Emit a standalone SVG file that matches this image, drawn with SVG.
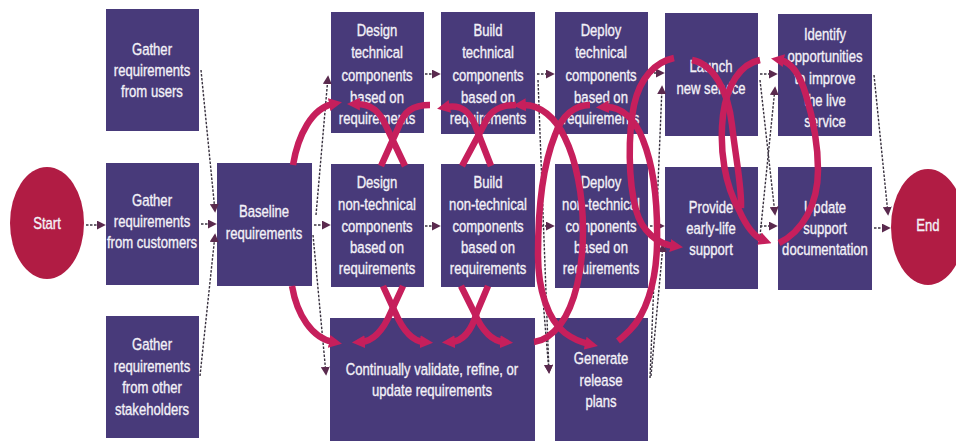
<svg xmlns="http://www.w3.org/2000/svg" width="956" height="441" viewBox="0 0 956 441">
<style>
.box{fill:#483a7a}
.oval{fill:#b11c44}
.t{font-family:"Liberation Sans",Arial,sans-serif;font-size:17px;fill:#f3f1f7;stroke:#f3f1f7;stroke-width:0.35;text-anchor:middle}
.d{fill:none;stroke:#3a3340;stroke-width:1.4;stroke-dasharray:2.5 1.5;marker-end:url(#da)}
.m{fill:none;stroke:#c61f5c;stroke-width:6.5}
.me{marker-end:url(#ma)}
.ms{marker-start:url(#ma)}
</style>
<defs>
<marker id="da" viewBox="0 0 10 10" refX="8" refY="5" markerUnits="userSpaceOnUse" markerWidth="9" markerHeight="9" orient="auto"><path d="M0,0 L10,5 L0,10 z" fill="#5a2a4e"/></marker>
<marker id="ma" viewBox="0 0 10 10" refX="3" refY="5" markerUnits="userSpaceOnUse" markerWidth="13" markerHeight="15" orient="auto-start-reverse"><path d="M0,0 L10,5 L0,10 z" fill="#c61f5c"/></marker>
</defs>
<rect width="956" height="441" fill="#ffffff"/>

<g id="start"><ellipse class="oval" cx="47" cy="223" rx="37" ry="56"/><text class="t" transform="matrix(0.77 0 0 1 47 229)">Start</text></g>
<g id="gather-users"><rect class="box" x="106" y="9" width="93" height="122"/><text class="t" transform="matrix(0.77 0 0 1 152 55)">Gather</text><text class="t" transform="matrix(0.77 0 0 1 152 76)">requirements</text><text class="t" transform="matrix(0.77 0 0 1 152 97)">from users</text></g>
<g id="gather-customers"><rect class="box" x="106" y="163" width="93" height="122"/><text class="t" transform="matrix(0.77 0 0 1 152 206)">Gather</text><text class="t" transform="matrix(0.77 0 0 1 152 227)">requirements</text><text class="t" transform="matrix(0.77 0 0 1 152 248)">from customers</text></g>
<g id="gather-other"><rect class="box" x="106" y="316" width="93" height="122"/><text class="t" transform="matrix(0.77 0 0 1 152 350)">Gather</text><text class="t" transform="matrix(0.77 0 0 1 152 372)">requirements</text><text class="t" transform="matrix(0.77 0 0 1 152 393)">from other</text><text class="t" transform="matrix(0.77 0 0 1 152 415)">stakeholders</text></g>
<g id="baseline"><rect class="box" x="217" y="163" width="95" height="123"/><text class="t" transform="matrix(0.77 0 0 1 264 217)">Baseline</text><text class="t" transform="matrix(0.77 0 0 1 264 239)">requirements</text></g>
<g id="design-tech"><rect class="box" x="331" y="12" width="93" height="121"/><text class="t" transform="matrix(0.77 0 0 1 377 36)">Design</text><text class="t" transform="matrix(0.77 0 0 1 377 58)">technical</text><text class="t" transform="matrix(0.77 0 0 1 377 81)">components</text><text class="t" transform="matrix(0.77 0 0 1 377 103)">based on</text><text class="t" transform="matrix(0.77 0 0 1 377 124)">requirements</text></g>
<g id="build-tech"><rect class="box" x="441" y="12" width="94" height="122"/><text class="t" transform="matrix(0.77 0 0 1 488 36)">Build</text><text class="t" transform="matrix(0.77 0 0 1 488 58)">technical</text><text class="t" transform="matrix(0.77 0 0 1 488 81)">components</text><text class="t" transform="matrix(0.77 0 0 1 488 103)">based on</text><text class="t" transform="matrix(0.77 0 0 1 488 124)">requirements</text></g>
<g id="deploy-tech"><rect class="box" x="555" y="12" width="93" height="122"/><text class="t" transform="matrix(0.77 0 0 1 601 36)">Deploy</text><text class="t" transform="matrix(0.77 0 0 1 601 58)">technical</text><text class="t" transform="matrix(0.77 0 0 1 601 81)">components</text><text class="t" transform="matrix(0.77 0 0 1 601 103)">based on</text><text class="t" transform="matrix(0.77 0 0 1 601 124)">requirements</text></g>
<g id="design-nontech"><rect class="box" x="331" y="164" width="93" height="123"/><text class="t" transform="matrix(0.77 0 0 1 377 188)">Design</text><text class="t" transform="matrix(0.77 0 0 1 377 210)">non-technical</text><text class="t" transform="matrix(0.77 0 0 1 377 232)">components</text><text class="t" transform="matrix(0.77 0 0 1 377 253)">based on</text><text class="t" transform="matrix(0.77 0 0 1 377 274)">requirements</text></g>
<g id="build-nontech"><rect class="box" x="441" y="164" width="94" height="123"/><text class="t" transform="matrix(0.77 0 0 1 488 188)">Build</text><text class="t" transform="matrix(0.77 0 0 1 488 210)">non-technical</text><text class="t" transform="matrix(0.77 0 0 1 488 232)">components</text><text class="t" transform="matrix(0.77 0 0 1 488 253)">based on</text><text class="t" transform="matrix(0.77 0 0 1 488 274)">requirements</text></g>
<g id="deploy-nontech"><rect class="box" x="555" y="164" width="93" height="124"/><text class="t" transform="matrix(0.77 0 0 1 601 188)">Deploy</text><text class="t" transform="matrix(0.77 0 0 1 601 210)">non-technical</text><text class="t" transform="matrix(0.77 0 0 1 601 232)">components</text><text class="t" transform="matrix(0.77 0 0 1 601 253)">based on</text><text class="t" transform="matrix(0.77 0 0 1 601 274)">requirements</text></g>
<g id="continually"><rect class="box" x="330" y="318" width="205" height="125"/><text class="t" transform="matrix(0.77 0 0 1 432 375)">Continually validate, refine, or</text><text class="t" transform="matrix(0.77 0 0 1 432 396)">update requirements</text></g>
<g id="generate"><rect class="box" x="555" y="318" width="93" height="125"/><text class="t" transform="matrix(0.77 0 0 1 601 364)">Generate</text><text class="t" transform="matrix(0.77 0 0 1 601 386)">release</text><text class="t" transform="matrix(0.77 0 0 1 601 407)">plans</text></g>
<g id="launch"><rect class="box" x="665" y="13" width="93" height="123"/><text class="t" transform="matrix(0.77 0 0 1 711 72)">Launch</text><text class="t" transform="matrix(0.77 0 0 1 711 94)">new service</text></g>
<g id="identify"><rect class="box" x="778" y="14" width="94" height="122"/><text class="t" transform="matrix(0.77 0 0 1 825 40)">Identify</text><text class="t" transform="matrix(0.77 0 0 1 825 62)">opportunities</text><text class="t" transform="matrix(0.77 0 0 1 825 84)">to improve</text><text class="t" transform="matrix(0.77 0 0 1 825 106)">the live</text><text class="t" transform="matrix(0.77 0 0 1 825 127)">service</text></g>
<g id="provide"><rect class="box" x="665" y="167" width="93" height="122"/><text class="t" transform="matrix(0.77 0 0 1 711 213)">Provide</text><text class="t" transform="matrix(0.77 0 0 1 711 234)">early-life</text><text class="t" transform="matrix(0.77 0 0 1 711 255)">support</text></g>
<g id="update"><rect class="box" x="778" y="167" width="94" height="123"/><text class="t" transform="matrix(0.77 0 0 1 825 213)">Update</text><text class="t" transform="matrix(0.77 0 0 1 825 234)">support</text><text class="t" transform="matrix(0.77 0 0 1 825 255)">documentation</text></g>
<g id="end"><ellipse class="oval" cx="928" cy="227" rx="37" ry="58"/><text class="t" transform="matrix(0.77 0 0 1 928 231)">End</text></g>

<g id="connectors">
<path class="d" d="M86,225 L104,225"/>
<path class="d" d="M201,70 L215,211"/>
<path class="d" d="M201,224 L215,224"/>
<path class="d" d="M200,376 L215,235"/>
<path class="d" d="M316,215 L328,77"/>
<path class="d" d="M314,225 L329,225"/>
<path class="d" d="M313,235 L326,374"/>
<path class="d" d="M425,74 L439,74"/>
<path class="d" d="M425,226 L439,226"/>
<path class="d" d="M537,74 L553,74"/>
<path class="d" d="M537,226 L553,226"/>
<path class="d" d="M538,80 L549,372"/>
<path class="d" d="M538,240 L549,372"/>
<path class="d" d="M650,73 L663,73"/>
<path class="d" d="M650,226 L663,226"/>
<path class="d" d="M650,378 L662,87"/>
<path class="d" d="M651,376 L663,245"/>
<path class="d" d="M760,74 L776,74"/>
<path class="d" d="M760,80 L775,214"/>
<path class="d" d="M760,236 L775,88"/>
<path class="d" d="M760,226 L776,226"/>
<path class="d" d="M874,75 L888,214"/>
<path class="d" d="M874,228 L889,228"/>

<path class="m me" d="M293,165 C298,135 312,108 333,104"/>
<path class="m me" d="M292,286 C297,315 312,338 333,342"/>

<path class="m ms" d="M356,104 C372,104 380,112 386,126 L405,166"/>
<path class="m" d="M430,105 C412,105 404,112 399,126 L381,166"/>
<path class="m me" d="M383,286 L395,312 C401,326 410,341 424,342"/>
<path class="m ms" d="M361,342 C376,341 385,326 391,312 L403,286"/>

<path class="m ms" d="M446,107 C462,104 470,112 475,125 L491,166"/>
<path class="m" d="M516,105 C498,105 489,112 484,125 L462,166"/>
<path class="m me" d="M461,286 L474,312 C480,326 490,341 504,342"/>
<path class="m ms" d="M451,342 C466,341 473,326 477,312 L488,286"/>

<path class="m ms" d="M522,105 C540,104 556,118 565,138 C576,160 583,195 583,230 C583,270 575,305 560,325 C552,335 543,341 534,342"/>
<path class="m me" d="M590,105 C575,105 562,115 555,135 C543,165 538,210 538,255 C538,290 548,320 565,333 C573,339 580,342 589,344"/>
<path class="m ms" d="M605,107 C620,106 635,118 643,140 C653,165 658,200 657,245 C656,285 645,315 630,330 C626,334 622,338 618,341"/>
<path class="m me" d="M674,58 C655,62 640,78 634,105 C628,135 628,180 636,210 C642,232 658,244 674,246"/>

<path class="m" d="M692,60 C713,64 728,90 732,125 C736,160 742,188 741,208"/>
<path class="m me" d="M760,60 C740,64 727,85 723,115 C719,150 725,185 739,210 C747,228 755,237 763,240"/>
<path class="m ms" d="M780,60 C792,62 800,75 806,95 C812,115 818,140 818,170 C818,205 802,232 779,243"/>
</g>
</svg>
